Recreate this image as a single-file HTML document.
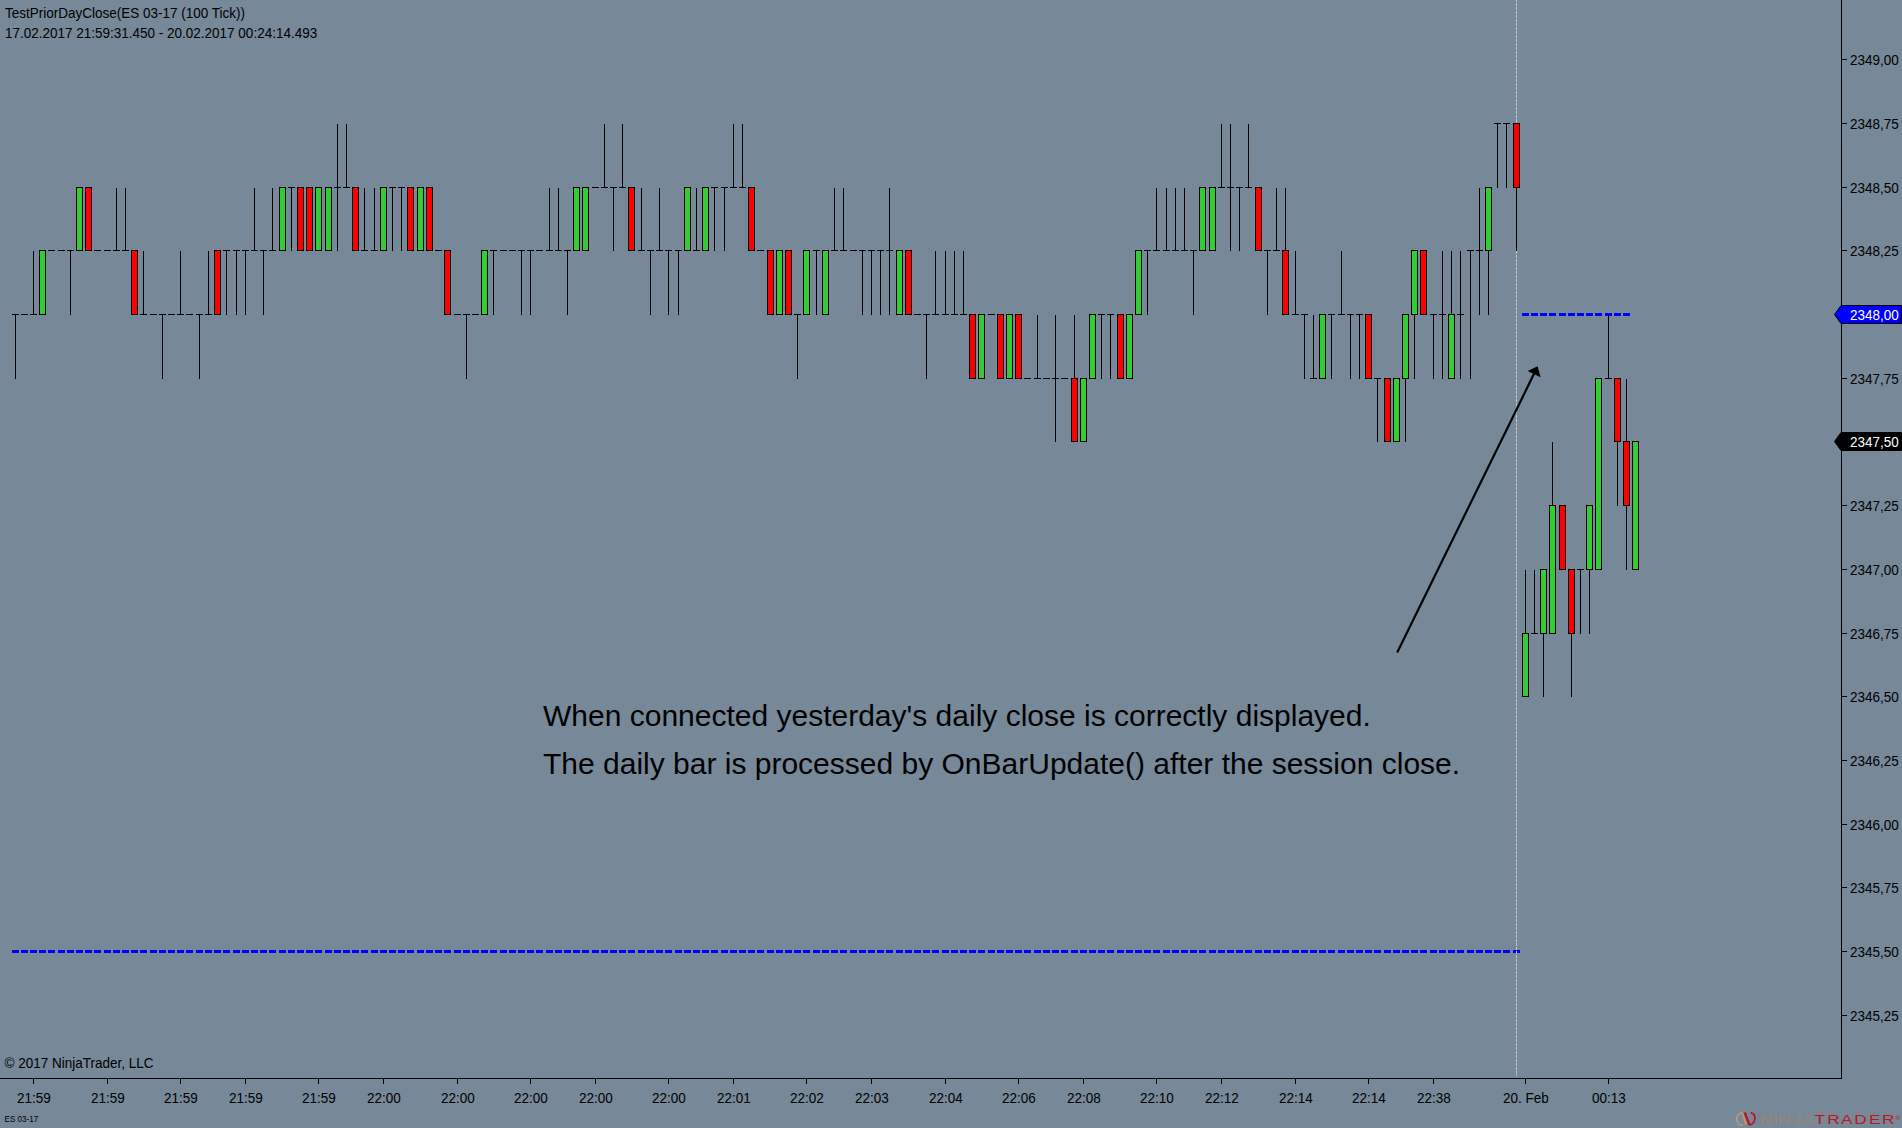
<!DOCTYPE html>
<html><head><meta charset="utf-8"><title>TestPriorDayClose</title>
<style>
html,body{margin:0;padding:0;background:#778899;width:1902px;height:1128px;overflow:hidden}
svg{position:absolute;left:0;top:0;display:block}
svg text{font-family:"Liberation Sans", Arial, sans-serif;}
</style></head><body>
<svg width="1902" height="1128" viewBox="0 0 1902 1128">
<rect x="0" y="0" width="1902" height="1128" fill="#778899"/>

<g fill="#0000FF" shape-rendering="crispEdges">
<rect x="12" y="950" width="7" height="3"/>
<rect x="21" y="950" width="7" height="3"/>
<rect x="30" y="950" width="7" height="3"/>
<rect x="39" y="950" width="7" height="3"/>
<rect x="48" y="950" width="7" height="3"/>
<rect x="58" y="950" width="7" height="3"/>
<rect x="67" y="950" width="7" height="3"/>
<rect x="76" y="950" width="7" height="3"/>
<rect x="85" y="950" width="7" height="3"/>
<rect x="94" y="950" width="7" height="3"/>
<rect x="104" y="950" width="7" height="3"/>
<rect x="113" y="950" width="7" height="3"/>
<rect x="122" y="950" width="7" height="3"/>
<rect x="131" y="950" width="7" height="3"/>
<rect x="140" y="950" width="7" height="3"/>
<rect x="150" y="950" width="7" height="3"/>
<rect x="159" y="950" width="7" height="3"/>
<rect x="168" y="950" width="7" height="3"/>
<rect x="177" y="950" width="7" height="3"/>
<rect x="186" y="950" width="7" height="3"/>
<rect x="196" y="950" width="7" height="3"/>
<rect x="205" y="950" width="7" height="3"/>
<rect x="214" y="950" width="7" height="3"/>
<rect x="223" y="950" width="7" height="3"/>
<rect x="233" y="950" width="7" height="3"/>
<rect x="242" y="950" width="7" height="3"/>
<rect x="251" y="950" width="7" height="3"/>
<rect x="260" y="950" width="7" height="3"/>
<rect x="269" y="950" width="7" height="3"/>
<rect x="279" y="950" width="7" height="3"/>
<rect x="288" y="950" width="7" height="3"/>
<rect x="297" y="950" width="7" height="3"/>
<rect x="306" y="950" width="7" height="3"/>
<rect x="315" y="950" width="7" height="3"/>
<rect x="325" y="950" width="7" height="3"/>
<rect x="334" y="950" width="7" height="3"/>
<rect x="343" y="950" width="7" height="3"/>
<rect x="352" y="950" width="7" height="3"/>
<rect x="361" y="950" width="7" height="3"/>
<rect x="371" y="950" width="7" height="3"/>
<rect x="380" y="950" width="7" height="3"/>
<rect x="389" y="950" width="7" height="3"/>
<rect x="398" y="950" width="7" height="3"/>
<rect x="407" y="950" width="7" height="3"/>
<rect x="417" y="950" width="7" height="3"/>
<rect x="426" y="950" width="7" height="3"/>
<rect x="435" y="950" width="7" height="3"/>
<rect x="444" y="950" width="7" height="3"/>
<rect x="454" y="950" width="7" height="3"/>
<rect x="463" y="950" width="7" height="3"/>
<rect x="472" y="950" width="7" height="3"/>
<rect x="481" y="950" width="7" height="3"/>
<rect x="490" y="950" width="7" height="3"/>
<rect x="500" y="950" width="7" height="3"/>
<rect x="509" y="950" width="7" height="3"/>
<rect x="518" y="950" width="7" height="3"/>
<rect x="527" y="950" width="7" height="3"/>
<rect x="536" y="950" width="7" height="3"/>
<rect x="546" y="950" width="7" height="3"/>
<rect x="555" y="950" width="7" height="3"/>
<rect x="564" y="950" width="7" height="3"/>
<rect x="573" y="950" width="7" height="3"/>
<rect x="582" y="950" width="7" height="3"/>
<rect x="592" y="950" width="7" height="3"/>
<rect x="601" y="950" width="7" height="3"/>
<rect x="610" y="950" width="7" height="3"/>
<rect x="619" y="950" width="7" height="3"/>
<rect x="628" y="950" width="7" height="3"/>
<rect x="638" y="950" width="7" height="3"/>
<rect x="647" y="950" width="7" height="3"/>
<rect x="656" y="950" width="7" height="3"/>
<rect x="665" y="950" width="7" height="3"/>
<rect x="675" y="950" width="7" height="3"/>
<rect x="684" y="950" width="7" height="3"/>
<rect x="693" y="950" width="7" height="3"/>
<rect x="702" y="950" width="7" height="3"/>
<rect x="711" y="950" width="7" height="3"/>
<rect x="721" y="950" width="7" height="3"/>
<rect x="730" y="950" width="7" height="3"/>
<rect x="739" y="950" width="7" height="3"/>
<rect x="748" y="950" width="7" height="3"/>
<rect x="757" y="950" width="7" height="3"/>
<rect x="767" y="950" width="7" height="3"/>
<rect x="776" y="950" width="7" height="3"/>
<rect x="785" y="950" width="7" height="3"/>
<rect x="794" y="950" width="7" height="3"/>
<rect x="803" y="950" width="7" height="3"/>
<rect x="813" y="950" width="7" height="3"/>
<rect x="822" y="950" width="7" height="3"/>
<rect x="831" y="950" width="7" height="3"/>
<rect x="840" y="950" width="7" height="3"/>
<rect x="850" y="950" width="7" height="3"/>
<rect x="859" y="950" width="7" height="3"/>
<rect x="868" y="950" width="7" height="3"/>
<rect x="877" y="950" width="7" height="3"/>
<rect x="886" y="950" width="7" height="3"/>
<rect x="896" y="950" width="7" height="3"/>
<rect x="905" y="950" width="7" height="3"/>
<rect x="914" y="950" width="7" height="3"/>
<rect x="923" y="950" width="7" height="3"/>
<rect x="932" y="950" width="7" height="3"/>
<rect x="942" y="950" width="7" height="3"/>
<rect x="951" y="950" width="7" height="3"/>
<rect x="960" y="950" width="7" height="3"/>
<rect x="969" y="950" width="7" height="3"/>
<rect x="978" y="950" width="7" height="3"/>
<rect x="988" y="950" width="7" height="3"/>
<rect x="997" y="950" width="7" height="3"/>
<rect x="1006" y="950" width="7" height="3"/>
<rect x="1015" y="950" width="7" height="3"/>
<rect x="1024" y="950" width="7" height="3"/>
<rect x="1034" y="950" width="7" height="3"/>
<rect x="1043" y="950" width="7" height="3"/>
<rect x="1052" y="950" width="7" height="3"/>
<rect x="1061" y="950" width="7" height="3"/>
<rect x="1071" y="950" width="7" height="3"/>
<rect x="1080" y="950" width="7" height="3"/>
<rect x="1089" y="950" width="7" height="3"/>
<rect x="1098" y="950" width="7" height="3"/>
<rect x="1107" y="950" width="7" height="3"/>
<rect x="1117" y="950" width="7" height="3"/>
<rect x="1126" y="950" width="7" height="3"/>
<rect x="1135" y="950" width="7" height="3"/>
<rect x="1144" y="950" width="7" height="3"/>
<rect x="1153" y="950" width="7" height="3"/>
<rect x="1163" y="950" width="7" height="3"/>
<rect x="1172" y="950" width="7" height="3"/>
<rect x="1181" y="950" width="7" height="3"/>
<rect x="1190" y="950" width="7" height="3"/>
<rect x="1199" y="950" width="7" height="3"/>
<rect x="1209" y="950" width="7" height="3"/>
<rect x="1218" y="950" width="7" height="3"/>
<rect x="1227" y="950" width="7" height="3"/>
<rect x="1236" y="950" width="7" height="3"/>
<rect x="1245" y="950" width="7" height="3"/>
<rect x="1255" y="950" width="7" height="3"/>
<rect x="1264" y="950" width="7" height="3"/>
<rect x="1273" y="950" width="7" height="3"/>
<rect x="1282" y="950" width="7" height="3"/>
<rect x="1292" y="950" width="7" height="3"/>
<rect x="1301" y="950" width="7" height="3"/>
<rect x="1310" y="950" width="7" height="3"/>
<rect x="1319" y="950" width="7" height="3"/>
<rect x="1328" y="950" width="7" height="3"/>
<rect x="1338" y="950" width="7" height="3"/>
<rect x="1347" y="950" width="7" height="3"/>
<rect x="1356" y="950" width="7" height="3"/>
<rect x="1365" y="950" width="7" height="3"/>
<rect x="1374" y="950" width="7" height="3"/>
<rect x="1384" y="950" width="7" height="3"/>
<rect x="1393" y="950" width="7" height="3"/>
<rect x="1402" y="950" width="7" height="3"/>
<rect x="1411" y="950" width="7" height="3"/>
<rect x="1420" y="950" width="7" height="3"/>
<rect x="1430" y="950" width="7" height="3"/>
<rect x="1439" y="950" width="7" height="3"/>
<rect x="1448" y="950" width="7" height="3"/>
<rect x="1457" y="950" width="7" height="3"/>
<rect x="1467" y="950" width="7" height="3"/>
<rect x="1476" y="950" width="7" height="3"/>
<rect x="1485" y="950" width="7" height="3"/>
<rect x="1494" y="950" width="7" height="3"/>
<rect x="1503" y="950" width="7" height="3"/>
<rect x="1513" y="950" width="7" height="3"/>
<rect x="1522" y="313" width="7" height="3"/>
<rect x="1531" y="313" width="7" height="3"/>
<rect x="1540" y="313" width="7" height="3"/>
<rect x="1549" y="313" width="7" height="3"/>
<rect x="1559" y="313" width="7" height="3"/>
<rect x="1568" y="313" width="7" height="3"/>
<rect x="1577" y="313" width="7" height="3"/>
<rect x="1586" y="313" width="7" height="3"/>
<rect x="1595" y="313" width="7" height="3"/>
<rect x="1605" y="313" width="7" height="3"/>
<rect x="1614" y="313" width="7" height="3"/>
<rect x="1623" y="313" width="7" height="3"/>
</g>
<line x1="1516.5" y1="0" x2="1516.5" y2="1076" stroke="#C8C8C8" stroke-width="1" stroke-dasharray="3 1" stroke-dashoffset="1" shape-rendering="crispEdges"/>
<g shape-rendering="crispEdges">
<rect x="15" y="315" width="1" height="64" fill="#000"/>
<rect x="12" y="314" width="7" height="1" fill="#000"/>
<rect x="21" y="314" width="7" height="1" fill="#000"/>
<rect x="33" y="251" width="1" height="63" fill="#000"/>
<rect x="30" y="314" width="7" height="1" fill="#000"/>
<rect x="39.5" y="250.5" width="6" height="64" fill="#32CD32" stroke="#000" stroke-width="1"/>
<rect x="48" y="250" width="7" height="1" fill="#000"/>
<rect x="58" y="250" width="7" height="1" fill="#000"/>
<rect x="70" y="251" width="1" height="64" fill="#000"/>
<rect x="67" y="250" width="7" height="1" fill="#000"/>
<rect x="76.5" y="187.5" width="6" height="63" fill="#32CD32" stroke="#000" stroke-width="1"/>
<rect x="85.5" y="187.5" width="6" height="63" fill="#FF0000" stroke="#000" stroke-width="1"/>
<rect x="94" y="250" width="7" height="1" fill="#000"/>
<rect x="104" y="250" width="7" height="1" fill="#000"/>
<rect x="116" y="188" width="1" height="62" fill="#000"/>
<rect x="113" y="250" width="7" height="1" fill="#000"/>
<rect x="125" y="188" width="1" height="62" fill="#000"/>
<rect x="122" y="250" width="7" height="1" fill="#000"/>
<rect x="131.5" y="250.5" width="6" height="64" fill="#FF0000" stroke="#000" stroke-width="1"/>
<rect x="143" y="251" width="1" height="63" fill="#000"/>
<rect x="140" y="314" width="7" height="1" fill="#000"/>
<rect x="150" y="314" width="7" height="1" fill="#000"/>
<rect x="162" y="315" width="1" height="64" fill="#000"/>
<rect x="159" y="314" width="7" height="1" fill="#000"/>
<rect x="168" y="314" width="7" height="1" fill="#000"/>
<rect x="180" y="251" width="1" height="63" fill="#000"/>
<rect x="177" y="314" width="7" height="1" fill="#000"/>
<rect x="186" y="314" width="7" height="1" fill="#000"/>
<rect x="199" y="315" width="1" height="64" fill="#000"/>
<rect x="196" y="314" width="7" height="1" fill="#000"/>
<rect x="208" y="251" width="1" height="63" fill="#000"/>
<rect x="205" y="314" width="7" height="1" fill="#000"/>
<rect x="214.5" y="250.5" width="6" height="64" fill="#FF0000" stroke="#000" stroke-width="1"/>
<rect x="226" y="251" width="1" height="64" fill="#000"/>
<rect x="223" y="250" width="7" height="1" fill="#000"/>
<rect x="236" y="251" width="1" height="64" fill="#000"/>
<rect x="233" y="250" width="7" height="1" fill="#000"/>
<rect x="245" y="251" width="1" height="64" fill="#000"/>
<rect x="242" y="250" width="7" height="1" fill="#000"/>
<rect x="254" y="188" width="1" height="62" fill="#000"/>
<rect x="251" y="250" width="7" height="1" fill="#000"/>
<rect x="263" y="251" width="1" height="64" fill="#000"/>
<rect x="260" y="250" width="7" height="1" fill="#000"/>
<rect x="272" y="188" width="1" height="62" fill="#000"/>
<rect x="269" y="250" width="7" height="1" fill="#000"/>
<rect x="279.5" y="187.5" width="6" height="63" fill="#32CD32" stroke="#000" stroke-width="1"/>
<rect x="291" y="188" width="1" height="63" fill="#000"/>
<rect x="288" y="187" width="7" height="1" fill="#000"/>
<rect x="297.5" y="187.5" width="6" height="63" fill="#FF0000" stroke="#000" stroke-width="1"/>
<rect x="306.5" y="187.5" width="6" height="63" fill="#FF0000" stroke="#000" stroke-width="1"/>
<rect x="315.5" y="187.5" width="6" height="63" fill="#32CD32" stroke="#000" stroke-width="1"/>
<rect x="325.5" y="187.5" width="6" height="63" fill="#32CD32" stroke="#000" stroke-width="1"/>
<rect x="337" y="124" width="1" height="63" fill="#000"/>
<rect x="337" y="188" width="1" height="63" fill="#000"/>
<rect x="334" y="187" width="7" height="1" fill="#000"/>
<rect x="346" y="124" width="1" height="63" fill="#000"/>
<rect x="343" y="187" width="7" height="1" fill="#000"/>
<rect x="352.5" y="187.5" width="6" height="63" fill="#FF0000" stroke="#000" stroke-width="1"/>
<rect x="364" y="188" width="1" height="62" fill="#000"/>
<rect x="361" y="250" width="7" height="1" fill="#000"/>
<rect x="374" y="188" width="1" height="62" fill="#000"/>
<rect x="371" y="250" width="7" height="1" fill="#000"/>
<rect x="380.5" y="187.5" width="6" height="63" fill="#32CD32" stroke="#000" stroke-width="1"/>
<rect x="392" y="188" width="1" height="63" fill="#000"/>
<rect x="389" y="187" width="7" height="1" fill="#000"/>
<rect x="401" y="188" width="1" height="63" fill="#000"/>
<rect x="398" y="187" width="7" height="1" fill="#000"/>
<rect x="407.5" y="187.5" width="6" height="63" fill="#FF0000" stroke="#000" stroke-width="1"/>
<rect x="417.5" y="187.5" width="6" height="63" fill="#32CD32" stroke="#000" stroke-width="1"/>
<rect x="426.5" y="187.5" width="6" height="63" fill="#FF0000" stroke="#000" stroke-width="1"/>
<rect x="435" y="250" width="7" height="1" fill="#000"/>
<rect x="444.5" y="250.5" width="6" height="64" fill="#FF0000" stroke="#000" stroke-width="1"/>
<rect x="454" y="314" width="7" height="1" fill="#000"/>
<rect x="466" y="315" width="1" height="64" fill="#000"/>
<rect x="463" y="314" width="7" height="1" fill="#000"/>
<rect x="472" y="314" width="7" height="1" fill="#000"/>
<rect x="481.5" y="250.5" width="6" height="64" fill="#32CD32" stroke="#000" stroke-width="1"/>
<rect x="493" y="251" width="1" height="64" fill="#000"/>
<rect x="490" y="250" width="7" height="1" fill="#000"/>
<rect x="500" y="250" width="7" height="1" fill="#000"/>
<rect x="509" y="250" width="7" height="1" fill="#000"/>
<rect x="521" y="251" width="1" height="64" fill="#000"/>
<rect x="518" y="250" width="7" height="1" fill="#000"/>
<rect x="530" y="251" width="1" height="64" fill="#000"/>
<rect x="527" y="250" width="7" height="1" fill="#000"/>
<rect x="536" y="250" width="7" height="1" fill="#000"/>
<rect x="549" y="188" width="1" height="62" fill="#000"/>
<rect x="546" y="250" width="7" height="1" fill="#000"/>
<rect x="558" y="188" width="1" height="62" fill="#000"/>
<rect x="555" y="250" width="7" height="1" fill="#000"/>
<rect x="567" y="251" width="1" height="64" fill="#000"/>
<rect x="564" y="250" width="7" height="1" fill="#000"/>
<rect x="573.5" y="187.5" width="6" height="63" fill="#32CD32" stroke="#000" stroke-width="1"/>
<rect x="582.5" y="187.5" width="6" height="63" fill="#32CD32" stroke="#000" stroke-width="1"/>
<rect x="592" y="187" width="7" height="1" fill="#000"/>
<rect x="604" y="124" width="1" height="63" fill="#000"/>
<rect x="601" y="187" width="7" height="1" fill="#000"/>
<rect x="613" y="188" width="1" height="63" fill="#000"/>
<rect x="610" y="187" width="7" height="1" fill="#000"/>
<rect x="622" y="124" width="1" height="63" fill="#000"/>
<rect x="619" y="187" width="7" height="1" fill="#000"/>
<rect x="628.5" y="187.5" width="6" height="63" fill="#FF0000" stroke="#000" stroke-width="1"/>
<rect x="641" y="188" width="1" height="62" fill="#000"/>
<rect x="638" y="250" width="7" height="1" fill="#000"/>
<rect x="650" y="251" width="1" height="64" fill="#000"/>
<rect x="647" y="250" width="7" height="1" fill="#000"/>
<rect x="659" y="188" width="1" height="62" fill="#000"/>
<rect x="656" y="250" width="7" height="1" fill="#000"/>
<rect x="668" y="251" width="1" height="64" fill="#000"/>
<rect x="665" y="250" width="7" height="1" fill="#000"/>
<rect x="678" y="251" width="1" height="64" fill="#000"/>
<rect x="675" y="250" width="7" height="1" fill="#000"/>
<rect x="684.5" y="187.5" width="6" height="63" fill="#32CD32" stroke="#000" stroke-width="1"/>
<rect x="696" y="188" width="1" height="62" fill="#000"/>
<rect x="693" y="250" width="7" height="1" fill="#000"/>
<rect x="702.5" y="187.5" width="6" height="63" fill="#32CD32" stroke="#000" stroke-width="1"/>
<rect x="714" y="188" width="1" height="63" fill="#000"/>
<rect x="711" y="187" width="7" height="1" fill="#000"/>
<rect x="724" y="188" width="1" height="63" fill="#000"/>
<rect x="721" y="187" width="7" height="1" fill="#000"/>
<rect x="733" y="124" width="1" height="63" fill="#000"/>
<rect x="730" y="187" width="7" height="1" fill="#000"/>
<rect x="742" y="124" width="1" height="63" fill="#000"/>
<rect x="739" y="187" width="7" height="1" fill="#000"/>
<rect x="748.5" y="187.5" width="6" height="63" fill="#FF0000" stroke="#000" stroke-width="1"/>
<rect x="757" y="250" width="7" height="1" fill="#000"/>
<rect x="767.5" y="250.5" width="6" height="64" fill="#FF0000" stroke="#000" stroke-width="1"/>
<rect x="776.5" y="250.5" width="6" height="64" fill="#32CD32" stroke="#000" stroke-width="1"/>
<rect x="785.5" y="250.5" width="6" height="64" fill="#FF0000" stroke="#000" stroke-width="1"/>
<rect x="797" y="315" width="1" height="64" fill="#000"/>
<rect x="794" y="314" width="7" height="1" fill="#000"/>
<rect x="803.5" y="250.5" width="6" height="64" fill="#32CD32" stroke="#000" stroke-width="1"/>
<rect x="816" y="251" width="1" height="64" fill="#000"/>
<rect x="813" y="250" width="7" height="1" fill="#000"/>
<rect x="822.5" y="250.5" width="6" height="64" fill="#32CD32" stroke="#000" stroke-width="1"/>
<rect x="834" y="188" width="1" height="62" fill="#000"/>
<rect x="831" y="250" width="7" height="1" fill="#000"/>
<rect x="843" y="188" width="1" height="62" fill="#000"/>
<rect x="840" y="250" width="7" height="1" fill="#000"/>
<rect x="850" y="250" width="7" height="1" fill="#000"/>
<rect x="862" y="251" width="1" height="64" fill="#000"/>
<rect x="859" y="250" width="7" height="1" fill="#000"/>
<rect x="871" y="251" width="1" height="64" fill="#000"/>
<rect x="868" y="250" width="7" height="1" fill="#000"/>
<rect x="880" y="251" width="1" height="64" fill="#000"/>
<rect x="877" y="250" width="7" height="1" fill="#000"/>
<rect x="889" y="188" width="1" height="62" fill="#000"/>
<rect x="889" y="251" width="1" height="64" fill="#000"/>
<rect x="886" y="250" width="7" height="1" fill="#000"/>
<rect x="896.5" y="250.5" width="6" height="64" fill="#32CD32" stroke="#000" stroke-width="1"/>
<rect x="905.5" y="250.5" width="6" height="64" fill="#FF0000" stroke="#000" stroke-width="1"/>
<rect x="914" y="314" width="7" height="1" fill="#000"/>
<rect x="926" y="315" width="1" height="64" fill="#000"/>
<rect x="923" y="314" width="7" height="1" fill="#000"/>
<rect x="935" y="251" width="1" height="63" fill="#000"/>
<rect x="932" y="314" width="7" height="1" fill="#000"/>
<rect x="945" y="251" width="1" height="63" fill="#000"/>
<rect x="942" y="314" width="7" height="1" fill="#000"/>
<rect x="954" y="251" width="1" height="63" fill="#000"/>
<rect x="951" y="314" width="7" height="1" fill="#000"/>
<rect x="963" y="251" width="1" height="63" fill="#000"/>
<rect x="960" y="314" width="7" height="1" fill="#000"/>
<rect x="969.5" y="314.5" width="6" height="64" fill="#FF0000" stroke="#000" stroke-width="1"/>
<rect x="978.5" y="314.5" width="6" height="64" fill="#32CD32" stroke="#000" stroke-width="1"/>
<rect x="988" y="314" width="7" height="1" fill="#000"/>
<rect x="997.5" y="314.5" width="6" height="64" fill="#FF0000" stroke="#000" stroke-width="1"/>
<rect x="1006.5" y="314.5" width="6" height="64" fill="#32CD32" stroke="#000" stroke-width="1"/>
<rect x="1015.5" y="314.5" width="6" height="64" fill="#FF0000" stroke="#000" stroke-width="1"/>
<rect x="1024" y="378" width="7" height="1" fill="#000"/>
<rect x="1037" y="315" width="1" height="63" fill="#000"/>
<rect x="1034" y="378" width="7" height="1" fill="#000"/>
<rect x="1043" y="378" width="7" height="1" fill="#000"/>
<rect x="1055" y="315" width="1" height="63" fill="#000"/>
<rect x="1055" y="379" width="1" height="63" fill="#000"/>
<rect x="1052" y="378" width="7" height="1" fill="#000"/>
<rect x="1061" y="378" width="7" height="1" fill="#000"/>
<rect x="1074" y="315" width="1" height="63" fill="#000"/>
<rect x="1071.5" y="378.5" width="6" height="63" fill="#FF0000" stroke="#000" stroke-width="1"/>
<rect x="1080.5" y="378.5" width="6" height="63" fill="#32CD32" stroke="#000" stroke-width="1"/>
<rect x="1089.5" y="314.5" width="6" height="64" fill="#32CD32" stroke="#000" stroke-width="1"/>
<rect x="1101" y="315" width="1" height="64" fill="#000"/>
<rect x="1098" y="314" width="7" height="1" fill="#000"/>
<rect x="1110" y="315" width="1" height="64" fill="#000"/>
<rect x="1107" y="314" width="7" height="1" fill="#000"/>
<rect x="1117.5" y="314.5" width="6" height="64" fill="#FF0000" stroke="#000" stroke-width="1"/>
<rect x="1126.5" y="314.5" width="6" height="64" fill="#32CD32" stroke="#000" stroke-width="1"/>
<rect x="1135.5" y="250.5" width="6" height="64" fill="#32CD32" stroke="#000" stroke-width="1"/>
<rect x="1147" y="251" width="1" height="64" fill="#000"/>
<rect x="1144" y="250" width="7" height="1" fill="#000"/>
<rect x="1156" y="188" width="1" height="62" fill="#000"/>
<rect x="1153" y="250" width="7" height="1" fill="#000"/>
<rect x="1166" y="188" width="1" height="62" fill="#000"/>
<rect x="1163" y="250" width="7" height="1" fill="#000"/>
<rect x="1175" y="188" width="1" height="62" fill="#000"/>
<rect x="1172" y="250" width="7" height="1" fill="#000"/>
<rect x="1184" y="188" width="1" height="62" fill="#000"/>
<rect x="1181" y="250" width="7" height="1" fill="#000"/>
<rect x="1193" y="251" width="1" height="64" fill="#000"/>
<rect x="1190" y="250" width="7" height="1" fill="#000"/>
<rect x="1199.5" y="187.5" width="6" height="63" fill="#32CD32" stroke="#000" stroke-width="1"/>
<rect x="1209.5" y="187.5" width="6" height="63" fill="#32CD32" stroke="#000" stroke-width="1"/>
<rect x="1221" y="124" width="1" height="63" fill="#000"/>
<rect x="1218" y="187" width="7" height="1" fill="#000"/>
<rect x="1230" y="124" width="1" height="63" fill="#000"/>
<rect x="1230" y="188" width="1" height="63" fill="#000"/>
<rect x="1227" y="187" width="7" height="1" fill="#000"/>
<rect x="1239" y="188" width="1" height="63" fill="#000"/>
<rect x="1236" y="187" width="7" height="1" fill="#000"/>
<rect x="1248" y="124" width="1" height="63" fill="#000"/>
<rect x="1245" y="187" width="7" height="1" fill="#000"/>
<rect x="1255.5" y="187.5" width="6" height="63" fill="#FF0000" stroke="#000" stroke-width="1"/>
<rect x="1267" y="251" width="1" height="64" fill="#000"/>
<rect x="1264" y="250" width="7" height="1" fill="#000"/>
<rect x="1276" y="188" width="1" height="62" fill="#000"/>
<rect x="1273" y="250" width="7" height="1" fill="#000"/>
<rect x="1285" y="188" width="1" height="62" fill="#000"/>
<rect x="1282.5" y="250.5" width="6" height="64" fill="#FF0000" stroke="#000" stroke-width="1"/>
<rect x="1295" y="251" width="1" height="63" fill="#000"/>
<rect x="1292" y="314" width="7" height="1" fill="#000"/>
<rect x="1304" y="315" width="1" height="64" fill="#000"/>
<rect x="1301" y="314" width="7" height="1" fill="#000"/>
<rect x="1313" y="315" width="1" height="63" fill="#000"/>
<rect x="1310" y="378" width="7" height="1" fill="#000"/>
<rect x="1319.5" y="314.5" width="6" height="64" fill="#32CD32" stroke="#000" stroke-width="1"/>
<rect x="1331" y="315" width="1" height="64" fill="#000"/>
<rect x="1328" y="314" width="7" height="1" fill="#000"/>
<rect x="1341" y="251" width="1" height="63" fill="#000"/>
<rect x="1338" y="314" width="7" height="1" fill="#000"/>
<rect x="1350" y="315" width="1" height="64" fill="#000"/>
<rect x="1347" y="314" width="7" height="1" fill="#000"/>
<rect x="1359" y="315" width="1" height="64" fill="#000"/>
<rect x="1356" y="314" width="7" height="1" fill="#000"/>
<rect x="1365.5" y="314.5" width="6" height="64" fill="#FF0000" stroke="#000" stroke-width="1"/>
<rect x="1377" y="379" width="1" height="63" fill="#000"/>
<rect x="1374" y="378" width="7" height="1" fill="#000"/>
<rect x="1384.5" y="378.5" width="6" height="63" fill="#FF0000" stroke="#000" stroke-width="1"/>
<rect x="1393.5" y="378.5" width="6" height="63" fill="#32CD32" stroke="#000" stroke-width="1"/>
<rect x="1405" y="379" width="1" height="63" fill="#000"/>
<rect x="1402.5" y="314.5" width="6" height="64" fill="#32CD32" stroke="#000" stroke-width="1"/>
<rect x="1414" y="315" width="1" height="64" fill="#000"/>
<rect x="1411.5" y="250.5" width="6" height="64" fill="#32CD32" stroke="#000" stroke-width="1"/>
<rect x="1420.5" y="250.5" width="6" height="64" fill="#FF0000" stroke="#000" stroke-width="1"/>
<rect x="1433" y="315" width="1" height="64" fill="#000"/>
<rect x="1430" y="314" width="7" height="1" fill="#000"/>
<rect x="1442" y="251" width="1" height="63" fill="#000"/>
<rect x="1442" y="315" width="1" height="64" fill="#000"/>
<rect x="1439" y="314" width="7" height="1" fill="#000"/>
<rect x="1451" y="251" width="1" height="63" fill="#000"/>
<rect x="1448.5" y="314.5" width="6" height="64" fill="#32CD32" stroke="#000" stroke-width="1"/>
<rect x="1460" y="251" width="1" height="63" fill="#000"/>
<rect x="1460" y="315" width="1" height="64" fill="#000"/>
<rect x="1457" y="314" width="7" height="1" fill="#000"/>
<rect x="1470" y="251" width="1" height="128" fill="#000"/>
<rect x="1467" y="250" width="7" height="1" fill="#000"/>
<rect x="1479" y="188" width="1" height="62" fill="#000"/>
<rect x="1479" y="251" width="1" height="64" fill="#000"/>
<rect x="1476" y="250" width="7" height="1" fill="#000"/>
<rect x="1488" y="251" width="1" height="64" fill="#000"/>
<rect x="1485.5" y="187.5" width="6" height="63" fill="#32CD32" stroke="#000" stroke-width="1"/>
<rect x="1497" y="124" width="1" height="64" fill="#000"/>
<rect x="1494" y="123" width="7" height="1" fill="#000"/>
<rect x="1506" y="124" width="1" height="64" fill="#000"/>
<rect x="1503" y="123" width="7" height="1" fill="#000"/>
<rect x="1516" y="188" width="1" height="63" fill="#000"/>
<rect x="1513.5" y="123.5" width="6" height="64" fill="#FF0000" stroke="#000" stroke-width="1"/>
<rect x="1525" y="570" width="1" height="63" fill="#000"/>
<rect x="1522.5" y="633.5" width="6" height="63" fill="#32CD32" stroke="#000" stroke-width="1"/>
<rect x="1534" y="570" width="1" height="63" fill="#000"/>
<rect x="1531" y="633" width="7" height="1" fill="#000"/>
<rect x="1543" y="634" width="1" height="63" fill="#000"/>
<rect x="1540.5" y="569.5" width="6" height="64" fill="#32CD32" stroke="#000" stroke-width="1"/>
<rect x="1552" y="442" width="1" height="63" fill="#000"/>
<rect x="1549.5" y="505.5" width="6" height="128" fill="#32CD32" stroke="#000" stroke-width="1"/>
<rect x="1559.5" y="505.5" width="6" height="64" fill="#FF0000" stroke="#000" stroke-width="1"/>
<rect x="1571" y="634" width="1" height="63" fill="#000"/>
<rect x="1568.5" y="569.5" width="6" height="64" fill="#FF0000" stroke="#000" stroke-width="1"/>
<rect x="1580" y="570" width="1" height="64" fill="#000"/>
<rect x="1577" y="569" width="7" height="1" fill="#000"/>
<rect x="1589" y="570" width="1" height="64" fill="#000"/>
<rect x="1586.5" y="505.5" width="6" height="64" fill="#32CD32" stroke="#000" stroke-width="1"/>
<rect x="1595.5" y="378.5" width="6" height="191" fill="#32CD32" stroke="#000" stroke-width="1"/>
<rect x="1608" y="315" width="1" height="63" fill="#000"/>
<rect x="1605" y="378" width="7" height="1" fill="#000"/>
<rect x="1617" y="442" width="1" height="64" fill="#000"/>
<rect x="1614.5" y="378.5" width="6" height="63" fill="#FF0000" stroke="#000" stroke-width="1"/>
<rect x="1626" y="379" width="1" height="62" fill="#000"/>
<rect x="1626" y="506" width="1" height="64" fill="#000"/>
<rect x="1623.5" y="441.5" width="6" height="64" fill="#FF0000" stroke="#000" stroke-width="1"/>
<rect x="1632.5" y="441.5" width="6" height="128" fill="#32CD32" stroke="#000" stroke-width="1"/>
</g>
<line x1="1397.2" y1="652.6" x2="1535.6" y2="370.6" stroke="#000" stroke-width="2.2"/>
<polygon points="1537.6,366.2 1527.6,371 1540.6,377.2" fill="#000"/>
<text x="543" y="725.7" font-size="30" fill="#000">When connected yesterday's daily close is correctly displayed.</text>
<text x="543" y="773.7" font-size="30" fill="#000">The daily bar is processed by OnBarUpdate() after the session close.</text>
<g shape-rendering="crispEdges" fill="#000">
<rect x="1841" y="0" width="1" height="1079"/>
<rect x="0" y="1078" width="1842" height="1"/>
</g>
<g shape-rendering="crispEdges" fill="#000">
<rect x="1842" y="59" width="5" height="1"/>
<rect x="1842" y="123" width="5" height="1"/>
<rect x="1842" y="187" width="5" height="1"/>
<rect x="1842" y="250" width="5" height="1"/>
<rect x="1842" y="314" width="5" height="1"/>
<rect x="1842" y="378" width="5" height="1"/>
<rect x="1842" y="441" width="5" height="1"/>
<rect x="1842" y="505" width="5" height="1"/>
<rect x="1842" y="569" width="5" height="1"/>
<rect x="1842" y="633" width="5" height="1"/>
<rect x="1842" y="696" width="5" height="1"/>
<rect x="1842" y="760" width="5" height="1"/>
<rect x="1842" y="824" width="5" height="1"/>
<rect x="1842" y="887" width="5" height="1"/>
<rect x="1842" y="951" width="5" height="1"/>
<rect x="1842" y="1015" width="5" height="1"/>
</g>
<g font-size="13.5" fill="#000">
<text x="1850" y="65" transform="matrix(1 0 0 1.06 0 -3.900)">2349,00</text>
<text x="1850" y="129" transform="matrix(1 0 0 1.06 0 -7.740)">2348,75</text>
<text x="1850" y="193" transform="matrix(1 0 0 1.06 0 -11.580)">2348,50</text>
<text x="1850" y="256" transform="matrix(1 0 0 1.06 0 -15.360)">2348,25</text>
<text x="1850" y="384" transform="matrix(1 0 0 1.06 0 -23.040)">2347,75</text>
<text x="1850" y="511" transform="matrix(1 0 0 1.06 0 -30.660)">2347,25</text>
<text x="1850" y="575" transform="matrix(1 0 0 1.06 0 -34.500)">2347,00</text>
<text x="1850" y="639" transform="matrix(1 0 0 1.06 0 -38.340)">2346,75</text>
<text x="1850" y="702" transform="matrix(1 0 0 1.06 0 -42.120)">2346,50</text>
<text x="1850" y="766" transform="matrix(1 0 0 1.06 0 -45.960)">2346,25</text>
<text x="1850" y="830" transform="matrix(1 0 0 1.06 0 -49.800)">2346,00</text>
<text x="1850" y="893" transform="matrix(1 0 0 1.06 0 -53.580)">2345,75</text>
<text x="1850" y="957" transform="matrix(1 0 0 1.06 0 -57.420)">2345,50</text>
<text x="1850" y="1021" transform="matrix(1 0 0 1.06 0 -61.260)">2345,25</text>
</g>
<polygon points="1834.5,314.5 1841,305.5 1901.5,305.5 1901.5,323.5 1841,323.5" fill="#0000FF" stroke="#000" stroke-width="1"/>
<text x="1850" y="320" transform="matrix(1 0 0 1.06 0 -19.200)" font-size="13.5" fill="#FFFFFF">2348,00</text>
<polygon points="1834.5,441.5 1841,432.5 1901.5,432.5 1901.5,450.5 1841,450.5" fill="#000000" stroke="#000" stroke-width="1"/>
<text x="1850" y="447" transform="matrix(1 0 0 1.06 0 -26.820)" font-size="13.5" fill="#FFFFFF">2347,50</text>
<g shape-rendering="crispEdges" fill="#000">
<rect x="33" y="1079" width="1" height="5"/>
<rect x="107" y="1079" width="1" height="5"/>
<rect x="180" y="1079" width="1" height="5"/>
<rect x="245" y="1079" width="1" height="5"/>
<rect x="318" y="1079" width="1" height="5"/>
<rect x="383" y="1079" width="1" height="5"/>
<rect x="457" y="1079" width="1" height="5"/>
<rect x="530" y="1079" width="1" height="5"/>
<rect x="595" y="1079" width="1" height="5"/>
<rect x="668" y="1079" width="1" height="5"/>
<rect x="733" y="1079" width="1" height="5"/>
<rect x="806" y="1079" width="1" height="5"/>
<rect x="871" y="1079" width="1" height="5"/>
<rect x="945" y="1079" width="1" height="5"/>
<rect x="1018" y="1079" width="1" height="5"/>
<rect x="1083" y="1079" width="1" height="5"/>
<rect x="1156" y="1079" width="1" height="5"/>
<rect x="1221" y="1079" width="1" height="5"/>
<rect x="1295" y="1079" width="1" height="5"/>
<rect x="1368" y="1079" width="1" height="5"/>
<rect x="1433" y="1079" width="1" height="5"/>
<rect x="1525" y="1079" width="1" height="5"/>
<rect x="1608" y="1079" width="1" height="5"/>
</g>
<g font-size="13.5" fill="#000" text-anchor="middle">
<text x="33.9" y="1103" transform="matrix(1 0 0 1.06 0 -66.180)">21:59</text>
<text x="107.9" y="1103" transform="matrix(1 0 0 1.06 0 -66.180)">21:59</text>
<text x="180.9" y="1103" transform="matrix(1 0 0 1.06 0 -66.180)">21:59</text>
<text x="245.9" y="1103" transform="matrix(1 0 0 1.06 0 -66.180)">21:59</text>
<text x="318.9" y="1103" transform="matrix(1 0 0 1.06 0 -66.180)">21:59</text>
<text x="383.9" y="1103" transform="matrix(1 0 0 1.06 0 -66.180)">22:00</text>
<text x="457.9" y="1103" transform="matrix(1 0 0 1.06 0 -66.180)">22:00</text>
<text x="530.9" y="1103" transform="matrix(1 0 0 1.06 0 -66.180)">22:00</text>
<text x="595.9" y="1103" transform="matrix(1 0 0 1.06 0 -66.180)">22:00</text>
<text x="668.9" y="1103" transform="matrix(1 0 0 1.06 0 -66.180)">22:00</text>
<text x="733.9" y="1103" transform="matrix(1 0 0 1.06 0 -66.180)">22:01</text>
<text x="806.9" y="1103" transform="matrix(1 0 0 1.06 0 -66.180)">22:02</text>
<text x="871.9" y="1103" transform="matrix(1 0 0 1.06 0 -66.180)">22:03</text>
<text x="945.9" y="1103" transform="matrix(1 0 0 1.06 0 -66.180)">22:04</text>
<text x="1018.9" y="1103" transform="matrix(1 0 0 1.06 0 -66.180)">22:06</text>
<text x="1083.9" y="1103" transform="matrix(1 0 0 1.06 0 -66.180)">22:08</text>
<text x="1156.9" y="1103" transform="matrix(1 0 0 1.06 0 -66.180)">22:10</text>
<text x="1221.9" y="1103" transform="matrix(1 0 0 1.06 0 -66.180)">22:12</text>
<text x="1295.9" y="1103" transform="matrix(1 0 0 1.06 0 -66.180)">22:14</text>
<text x="1368.9" y="1103" transform="matrix(1 0 0 1.06 0 -66.180)">22:14</text>
<text x="1433.9" y="1103" transform="matrix(1 0 0 1.06 0 -66.180)">22:38</text>
<text x="1525.9" y="1103" transform="matrix(1 0 0 1.06 0 -66.180)">20. Feb</text>
<text x="1608.9" y="1103" transform="matrix(1 0 0 1.06 0 -66.180)">00:13</text>
</g>
<text x="5" y="18" transform="matrix(1 0 0 1.06 0 -1.080)" font-size="13.5" fill="#000">TestPriorDayClose(ES 03-17 (100 Tick))</text>
<text x="5" y="38" transform="matrix(1 0 0 1.06 0 -2.280)" font-size="13.5" fill="#000">17.02.2017 21:59:31.450 - 20.02.2017 00:24:14.493</text>
<text x="4.6" y="1068" transform="matrix(1 0 0 1.06 0 -64.080)" font-size="13.5" fill="#000">© 2017 NinjaTrader, LLC</text>
<text x="4.6" y="1122" font-size="9.6" textLength="33.6" lengthAdjust="spacingAndGlyphs" fill="#000">ES 03-17</text>
<g>
<path d="M1742.6 1112.6 C1738.2 1113.2 1736.6 1116.5 1736.8 1119.2 C1737.0 1122.6 1739.6 1125.3 1743.0 1125.4" fill="none" stroke="#B8987A" stroke-width="1.7"/>
<path d="M1742.2 1112.8 L1746.2 1124.6" fill="none" stroke="#B8987A" stroke-width="2"/>
<path d="M1744.6 1112.4 L1749.4 1124.8" fill="none" stroke="#BE161F" stroke-width="2.4"/>
<path d="M1750.6 1112.6 C1754.2 1113.6 1755.2 1116.8 1754.8 1119.4 C1754.3 1122.4 1752.2 1124.8 1749.0 1125.0" fill="none" stroke="#BE161F" stroke-width="1.7"/>
</g>
<g transform="translate(0,1124) scale(1.4,1)">
<text x="1256.64 1266.57 1269.57 1280.21 1287.50" y="0" font-size="12.4" fill="#A88462" fill-opacity="0.72">NINJA</text>
<text x="1296.14 1305.21 1315.00 1324.50 1335.07 1344.21" y="0" font-size="12.4" fill="#BE161F">TRADER</text>
</g>
<text x="1895.6" y="1119.5" font-size="6" fill="#BE161F">®</text>
</svg>
</body></html>
